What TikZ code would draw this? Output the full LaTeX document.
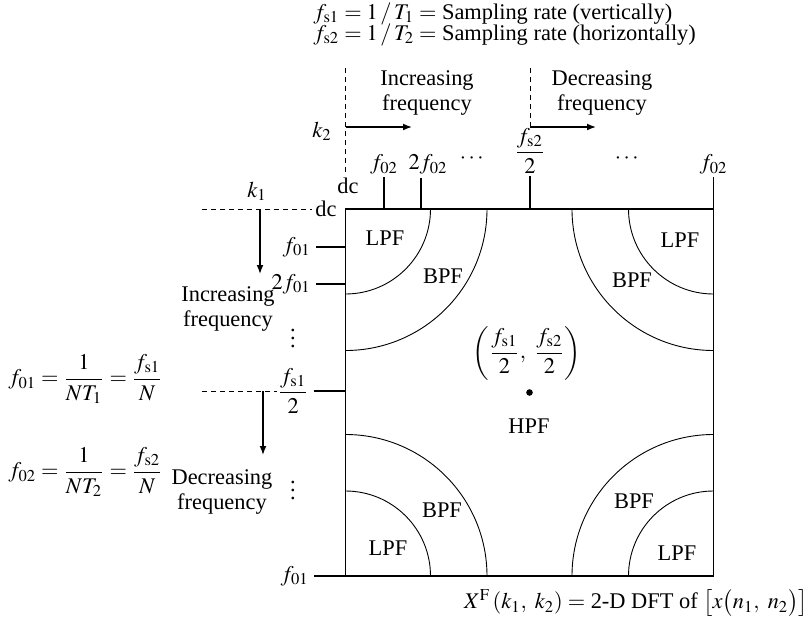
\documentclass[tikz,border=0pt]{standalone}
\usepackage{amsmath}
\usepackage{mathptmx}
\usepackage{fontspec}
\setmainfont{Liberation Serif}
\usepackage{tikz}
\usetikzlibrary{arrows.meta}

\begin{document}
\begin{tikzpicture}[x=0.5pt,y=-0.5pt,
  every node/.style={font=\fontsize{11.2}{12.5}\selectfont, inner sep=1pt},
  band/.style={line width=0.45pt},
  tick/.style={line width=0.55pt},
  guide/.style={line width=0.5pt, dash pattern=on 2.6pt off 1.9pt},
  flow/.style={line width=0.6pt, -{Latex[length=4.5pt,width=3.4pt]}},
  twoline/.style={align=center}]

        \useasboundingbox (0,0) rectangle (809,621);

        %正方形の四隅
        \coordinate (nw) at (345.5,209);
        \coordinate (ne) at (713.5,209);
        \coordinate (sw) at (345.5,576);
        \coordinate (se) at (713.5,576);

        %四隅の円弧 (LPF と BPF の境界)
        \begin{scope}
            \clip (nw) rectangle (se);
            \foreach \c in {nw,ne,sw,se}{
                \draw[band] (\c) circle[radius=85];
                \draw[band] (\c) circle[radius=141.5];
            }
        \end{scope}
        \draw[line width=0.7pt] (nw) rectangle (se);

        %上の見出し
        \node[anchor=west] (rate1) at (311,14) {$f_{\mathrm{s1}} = 1\,/\,T_1 =$ Sampling rate (vertically)};
        \node[anchor=west] (rate2) at (311,35) {$f_{\mathrm{s2}} = 1\,/\,T_2 =$ Sampling rate (horizontally)};

        %横方向 k2
        \coordinate (k2top) at (345.5,68);
        \coordinate (k2bot) at (345.5,175);
        \coordinate (k2run) at (345.5,127);
        \coordinate (k2end) at (412,127);
        \coordinate (midtop) at (530,68);
        \coordinate (midrun) at (530,127);
        \coordinate (midend) at (596,127);
        \draw[guide] (k2top) -- (k2bot);
        \draw[guide] (midtop) -- (midrun);
        \draw[flow] (k2run) -- (k2end);
        \draw[flow] (midrun) -- (midend);
        \node[twoline] (incr2) at (427,93) {Increasing\\frequency};
        \node[twoline] (decr2) at (602,93) {Decreasing\\frequency};
        \node (k2) at (322,131) {$k_2$};
        \node (dc2) at (348,186) {dc};

        %上の目盛り
        \node[anchor=south] (f02a) at (384,177) {$f_{02}$};
        \node[anchor=south] (f02b) at (428,177) {$2f_{02}$};
        \node (dotsa) at (473,159) {$\cdots$};
        \node[anchor=south] (fs2h) at (530,176) {$\dfrac{f_{\mathrm{s2}}}{2}$};
        \node (dotsb) at (628,159) {$\cdots$};
        \node[anchor=south] (f02c) at (713.5,177) {$f_{02}$};
        \coordinate (t2f02) at (421,178);
        \draw[tick] (f02a.south) -- (f02a.south |- nw);
        \draw[tick] (t2f02) -- (t2f02 |- nw);
        \draw[tick] (fs2h.south) -- (fs2h.south |- nw);
        \draw[tick] (f02c.south) -- (ne);

        %縦方向 k1
        \coordinate (k1left) at (202,209);
        \coordinate (k1right) at (312,209);
        \coordinate (k1end) at (260,274);
        \draw[guide] (k1left) -- (k1right);
        \draw[flow] (k1end |- k1left) -- (k1end);
        \node (k1) at (257,191) {$k_1$};
        \node[anchor=east] (dc1) at (339,209) {dc};
        \node[twoline] (incr1) at (228,309) {Increasing\\frequency};

        %左の目盛り
        \node[anchor=east] (f01a) at (313,247) {$f_{01}$};
        \node[anchor=east] (f01b) at (313,284) {$2f_{01}$};
        \node[inner sep=0pt] (vdotsa) at (293,332) {$\vdots$};
        \node[anchor=east] (fs1h) at (311,391) {$\dfrac{f_{\mathrm{s1}}}{2}$};
        \node[inner sep=0pt] (vdotsb) at (293,484) {$\vdots$};
        \node[anchor=east] (f01c) at (311,576) {$f_{01}$};
        \foreach \n in {f01a,f01b,fs1h,f01c}
            \draw[tick] (\n.east) ++(3,0) -- (\n.east -| nw);

        %中央の下向き矢印
        \coordinate (midleft) at (202,391);
        \coordinate (midright) at (277,391);
        \coordinate (midend1) at (263,455);
        \draw[guide] (midleft) -- (midright);
        \draw[flow] (midend1 |- midleft) -- (midend1);
        \node[twoline] (decr1) at (222,492) {Decreasing\\frequency};

        %左の式
        \node[anchor=west] (eq1) at (6,379) {$f_{01} = \dfrac{1}{NT_1} = \dfrac{f_{\mathrm{s1}}}{N}$};
        \node[anchor=west] (eq2) at (6,472) {$f_{02} = \dfrac{1}{NT_2} = \dfrac{f_{\mathrm{s2}}}{N}$};

        %領域の名前
        \node (lpfa) at (385,238) {LPF};
        \node (bpfa) at (443,276) {BPF};
        \node (lpfb) at (680,240) {LPF};
        \node (bpfb) at (632,280) {BPF};
        \node (bpfc) at (442,510) {BPF};
        \node (lpfc) at (388,548) {LPF};
        \node (bpfd) at (634,501) {BPF};
        \node (lpfd) at (677,553) {LPF};

        %中心
        \node (centre) at (527,353) {$\left(\dfrac{f_{\mathrm{s1}}}{2},\ \dfrac{f_{\mathrm{s2}}}{2}\right)$};
        \fill (529.5,392.5) circle[radius=3.3];
        \node (hpf) at (529,426) {HPF};

        %下の説明
        \node (caption) at (636,603) {$X^{\mathrm{F}}\,(k_1,\ k_2) =$ 2-D DFT of $\bigl[x\bigl(n_1,\ n_2\bigr)\bigr]$};

    \end{tikzpicture}
\end{document}
